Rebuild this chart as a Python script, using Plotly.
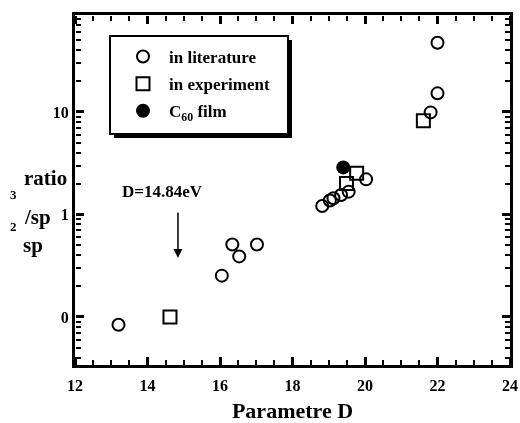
import plotly.graph_objects as go
import numpy as np

lit_x = [13.2, 16.05, 16.34, 16.53, 17.02, 18.82, 19.03, 19.13, 19.34, 19.55, 20.03, 22.0, 22.0, 21.81]
lit_y = [0.084, 0.253, 0.51, 0.39, 0.51, 1.21, 1.37, 1.44, 1.55, 1.67, 2.2, 47.4, 15.2, 9.9]
exp_x = [14.62, 21.61, 19.77, 19.49]
exp_y = [0.1, 8.2, 2.52, 2.01]
film_x = [19.4]
film_y = [2.88]

FONT = "Liberation Serif"
XR = [12, 24]
YR = [np.log10(0.034), np.log10(88.3)]

fig = go.Figure()
fig.add_trace(go.Scatter(x=lit_x, y=lit_y, mode="markers", name="in literature",
                         legendgroup="a",
                         marker=dict(symbol="circle-open", size=12, color="black", line=dict(width=2))))
fig.add_trace(go.Scatter(x=exp_x, y=exp_y, mode="markers", name="in experiment",
                         legendgroup="b",
                         marker=dict(symbol="square-open", size=13, color="black", line=dict(width=2))))
fig.add_trace(go.Scatter(x=film_x, y=film_y, mode="markers", name="C<sub>60</sub> film",
                         legendgroup="c",
                         marker=dict(symbol="circle", size=14, color="black")))
# invisible helpers so the tick-only overlay axes are drawn
for xa, ya in [("x2", "y2"), ("x3", "y3")]:
    fig.add_trace(go.Scatter(x=lit_x, y=lit_y, xaxis=xa, yaxis=ya, mode="markers", opacity=0,
                             showlegend=False, hoverinfo="skip"))

fig.update_layout(
    xaxis=dict(range=XR, tick0=12, dtick=2, showline=True, linewidth=3, linecolor="black", mirror=True,
               ticks="", showgrid=False, zeroline=False, automargin=False, ticklabelstandoff=4,
               tickfont=dict(family=FONT, size=16, color="black", weight="bold"),
               title=dict(text="<b>Parametre D</b>", font=dict(family=FONT, size=22, color="black"), standoff=14)),
    yaxis=dict(type="log", range=YR, dtick=1, labelalias={"0.1": "0"},
               showline=True, linewidth=3, linecolor="black", mirror=True,
               ticks="", showgrid=False, zeroline=False, automargin=False,
               tickfont=dict(family=FONT, size=16, color="black", weight="bold")),
)
tick_style = dict(ticks="outside", ticklen=8, tickwidth=3, tickcolor="#000000", showticklabels=False,
                  showline=False, showgrid=False, zeroline=False, automargin=False, anchor="free")
xminor = dict(ticks="outside", ticklen=5, tickwidth=2, dtick=0.5, tickcolor="#000000")
yminor = dict(ticks="outside", ticklen=5, tickwidth=2, dtick="D1", tickcolor="#000000")
fig.update_layout(
    xaxis2=dict(overlaying="x", range=XR, tick0=12, dtick=2, side="top", position=0, minor=xminor, **tick_style),
    xaxis3=dict(overlaying="x", range=XR, tick0=12, dtick=2, side="bottom", position=1, minor=xminor, **tick_style),
    yaxis2=dict(overlaying="y", type="log", range=YR, dtick=1, side="right", position=0, minor=yminor, **tick_style),
    yaxis3=dict(overlaying="y", type="log", range=YR, dtick=1, side="left", position=1, minor=yminor, **tick_style),
)

def px(xp, yp):
    return (xp-75)/435, (365-yp)/350

# legend box with shadow
sx0, sy0 = px(114, 138)
sx1, sy1 = px(292, 40)
fig.add_shape(type="rect", xref="paper", yref="paper", x0=sx0, x1=sx1, y0=sy0, y1=sy1, opacity=1,
              fillcolor="black", line=dict(width=0), layer="above")
bx0, by0 = px(110, 134)
bx1, by1 = px(288, 36)
fig.add_shape(type="rect", xref="paper", yref="paper", x0=bx0, x1=bx1, y0=by0, y1=by1, opacity=1,
              fillcolor="white", line=dict(width=2, color="black"), layer="above")

fig.update_layout(
    width=520, height=423,
    margin=dict(l=75, r=10, t=15, b=58),
    paper_bgcolor="white", plot_bgcolor="white",
    showlegend=True,
    legend=dict(x=(117-75)/435, y=(365-39)/350, xanchor="left", yanchor="top",
                bgcolor="rgba(0,0,0,0)", borderwidth=0,
                font=dict(family=FONT, size=17, color="black", weight="bold"),
                tracegroupgap=2, itemwidth=42),
)

for txt, xp, yp, sz in [("ratio", 45, 178, 21), ("/sp", 37, 217, 21), ("sp", 33, 245, 21),
                        ("3", 14, 194, 13), ("2", 14, 227, 13)]:
    x, y = px(xp, yp)
    fig.add_annotation(x=x, y=y, xref="paper", yref="paper", text=txt, showarrow=False,
                       xanchor="center", yanchor="middle",
                       font=dict(family=FONT, size=sz, color="black", weight="bold"))

fig.add_annotation(x=14.84, y=np.log10(0.377), ax=14.84, ay=np.log10(1.08), xref="x", yref="y", axref="x", ayref="y",
                   showarrow=True, arrowhead=2, arrowsize=1.2, arrowwidth=1.5, arrowcolor="black", text="")
fig.add_annotation(x=14.4, y=np.log10(1.69), xref="x", yref="y", text="<b>D=14.84eV</b>", showarrow=False,
                   xanchor="center", yanchor="middle",
                   font=dict(family=FONT, size=17, color="black"))

fig.write_html("out.html")
